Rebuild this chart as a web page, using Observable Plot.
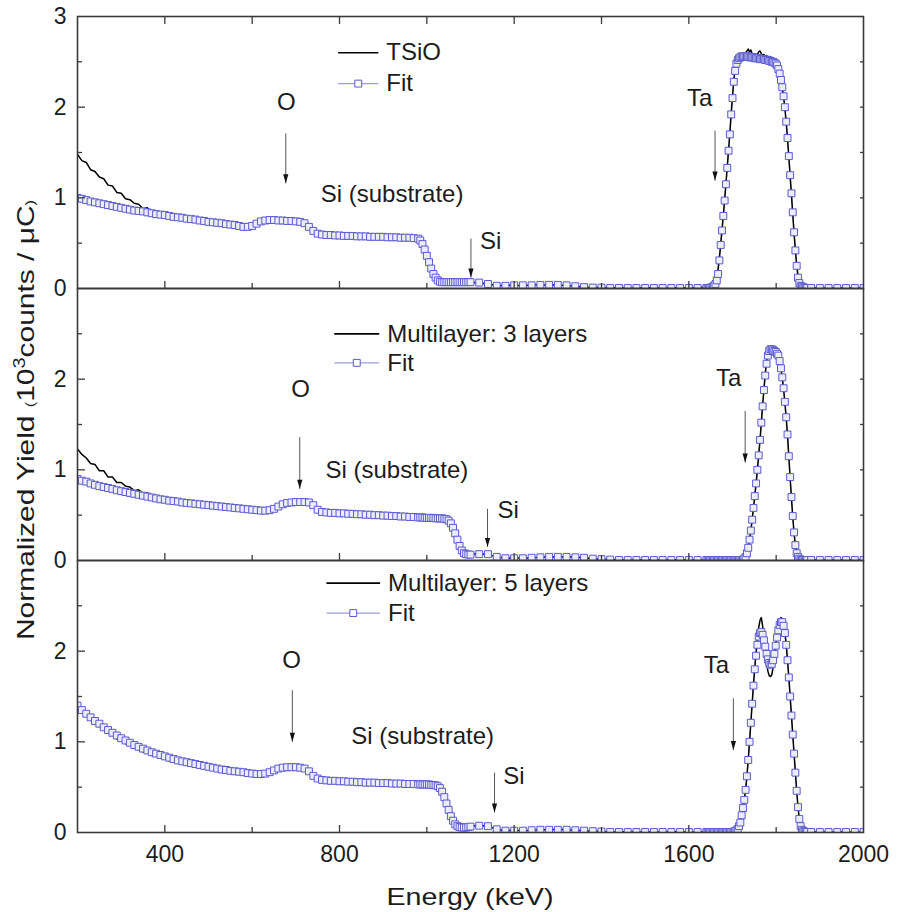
<!DOCTYPE html>
<html>
<head>
<meta charset="utf-8">
<script src="https://cdn.jsdelivr.net/npm/d3@7"></script>
<script src="https://cdn.jsdelivr.net/npm/@observablehq/plot@0.6"></script>
<style>
  body { margin: 0; background: #fff; }
  #chart svg { display: block; }
</style>
</head>
<body>
<div id="chart"></div>
<script>
// ---------- panels (also legend names) ----------
const panels = ["TSiO", "Multilayer: 3 layers", "Multilayer: 5 layers"];

// ---------- energy grid (keV) shared by all spectra ----------
const energy = [
  200,210,220,230,240,250,260,270,280,290,
  300,310,320,330,340,350,360,370,380,390,
  400,410,420,430,440,450,460,470,480,490,
  500,510,520,530,540,550,560,570,580,590,
  600,610,620,630,640,650,660,670,680,690,
  700,710,720,730,740,750,760,770,780,790,
  800,810,820,830,840,850,860,870,880,890,
  900,910,920,930,940,950,960,970,980,
  985,990,995,1000,1005,1010,1015,1020,1025,1030,
  1035,1040,1045,1050,1055,1060,1065,1070,1075,1080,
  1085,1090,1095,1100,
  1120,1140,1160,1180,1200,1220,1240,1260,1280,1300,
  1320,1340,1360,1380,1400,1420,1440,1460,1480,1500,
  1520,1540,1560,1580,1600,1620,1640,
  1643,1646,1649,1652,1655,1658,1661,1664,1667,1670,
  1673,1676,1679,1682,1685,1688,1691,1694,1697,1700,
  1703,1706,1709,1712,1715,1718,1721,1724,1727,1730,
  1733,1736,1739,1742,1745,1748,1751,1754,1757,1760,
  1763,1766,1769,1772,1775,1778,1781,1784,1787,1790,
  1793,1796,1799,1802,1805,1808,1811,1814,1817,1820,
  1823,1826,1829,1832,1835,1838,1841,1844,1847,1850,
  1853,1856,1859,1862,1865,1868,1871,
  1880,1900,1920,1940,1960,1980,2000
];

// ---------- TSiO (10^3 counts / uC) ----------
const tsioData = [
  1.48,1.41,1.39,1.31,1.29,1.23,1.21,1.14,1.13,1.06,
  1.05,0.99,0.98,0.94,0.93,0.88,0.89,0.84,0.85,0.81,
  0.82,0.79,0.80,0.77,0.79,0.76,0.775,0.755,0.76,0.745,
  0.74,0.735,0.73,0.715,0.715,0.70,0.705,0.69,0.68,0.68,
  0.69,0.71,0.74,0.755,0.75,0.76,0.75,0.745,0.75,0.74,
  0.745,0.73,0.72,0.68,0.63,0.60,0.585,0.59,0.58,0.585,
  0.58,0.575,0.58,0.57,0.575,0.565,0.575,0.565,0.57,0.565,
  0.57,0.56,0.565,0.555,0.56,0.555,0.56,0.55,0.55,
  0.52,0.48,0.43,0.36,0.29,0.22,0.16,0.12,0.09,0.075,
  0.07,0.07,0.075,0.07,0.065,0.07,0.075,0.07,0.07,0.075,
  0.07,0.065,0.07,0.07,
  0.06,0.05,0.03,0.035,0.035,0.03,0.04,0.04,0.035,0.04,
  0.03,0.025,0.015,0.01,0.01,0.005,0.01,0.005,0.005,0.01,
  0.005,0.005,0.005,0.01,0.005,0.01,0.01,
  0.01,0.01,0.02,0.03,0.04,0.06,0.09,0.14,0.22,0.34,
  0.49,0.65,0.81,0.98,1.16,1.34,1.53,1.72,1.93,2.12,
  2.30,2.43,2.52,2.56,2.57,2.58,2.57,2.59,2.58,2.60,
  2.62,2.64,2.61,2.63,2.59,2.58,2.59,2.57,2.58,2.61,
  2.62,2.59,2.57,2.58,2.56,2.57,2.55,2.56,2.54,2.55,
  2.53,2.52,2.50,2.47,2.43,2.37,2.30,2.21,2.11,1.99,
  1.83,1.65,1.45,1.24,1.03,0.82,0.61,0.42,0.26,0.14,
  0.07,0.04,0.02,0.01,0.01,0.01,0.005,
  0.005,0.005,0.005,0.005,0.005,0.005,0.005
];
const tsioFit = [
  1.00,0.99,0.975,0.96,0.95,0.94,0.93,0.92,0.91,0.90,
  0.89,0.88,0.87,0.86,0.855,0.85,0.84,0.83,0.82,0.815,
  0.81,0.80,0.79,0.785,0.78,0.77,0.765,0.76,0.75,0.745,
  0.735,0.73,0.725,0.72,0.71,0.705,0.70,0.69,0.68,0.68,
  0.69,0.715,0.74,0.75,0.755,0.755,0.75,0.75,0.745,0.745,
  0.74,0.735,0.72,0.68,0.635,0.605,0.595,0.59,0.59,0.585,
  0.585,0.58,0.58,0.58,0.575,0.575,0.575,0.57,0.57,0.57,
  0.57,0.565,0.565,0.565,0.56,0.56,0.56,0.555,0.55,
  0.53,0.49,0.43,0.36,0.29,0.22,0.16,0.12,0.09,0.075,
  0.07,0.07,0.07,0.07,0.07,0.07,0.07,0.07,0.07,0.07,
  0.07,0.07,0.07,0.07,
  0.065,0.05,0.03,0.03,0.035,0.035,0.035,0.04,0.04,0.04,
  0.035,0.025,0.015,0.01,0.01,0.005,0.005,0.005,0.005,0.005,
  0.005,0.005,0.005,0.005,0.005,0.005,0.005,
  0.005,0.005,0.01,0.01,0.02,0.03,0.05,0.09,0.16,0.31,
  0.48,0.64,0.80,0.97,1.15,1.33,1.52,1.70,1.92,2.10,
  2.28,2.40,2.48,2.52,2.54,2.55,2.56,2.56,2.56,2.56,
  2.56,2.56,2.55,2.55,2.55,2.55,2.54,2.54,2.54,2.54,
  2.53,2.53,2.53,2.53,2.52,2.52,2.52,2.51,2.51,2.50,
  2.50,2.49,2.48,2.46,2.42,2.37,2.30,2.22,2.12,2.00,
  1.84,1.66,1.46,1.25,1.05,0.84,0.62,0.42,0.25,0.12,
  0.06,0.03,0.02,0.01,0.01,0.005,0.005,
  0.005,0.005,0.005,0.005,0.005,0.005,0.005
];

// ---------- Multilayer: 3 layers ----------
const ml3Data = [
  1.23,1.17,1.13,1.07,1.06,0.99,0.99,0.92,0.92,0.86,
  0.86,0.82,0.81,0.77,0.78,0.735,0.745,0.71,0.71,0.68,
  0.69,0.66,0.67,0.645,0.65,0.635,0.635,0.625,0.625,0.61,
  0.61,0.60,0.605,0.59,0.59,0.58,0.585,0.57,0.575,0.56,
  0.56,0.55,0.555,0.545,0.555,0.565,0.60,0.61,0.64,0.63,
  0.655,0.64,0.65,0.635,0.61,0.555,0.535,0.525,0.53,0.52,
  0.52,0.515,0.52,0.51,0.515,0.505,0.51,0.50,0.505,0.495,
  0.50,0.49,0.495,0.485,0.49,0.48,0.485,0.475,0.48,
  0.47,0.475,0.465,0.47,0.47,0.465,0.47,0.46,0.465,0.46,
  0.465,0.455,0.455,0.44,0.41,0.36,0.30,0.23,0.16,0.11,
  0.08,0.07,0.065,0.07,
  0.075,0.065,0.04,0.025,0.03,0.025,0.03,0.035,0.04,0.035,
  0.045,0.035,0.03,0.02,0.015,0.01,0.005,0.005,0.01,0.005,
  0.005,0.005,0.01,0.005,0.005,0.005,0.005,
  0.005,0.005,0.005,0.01,0.005,0.005,0.005,0.01,0.005,0.005,
  0.005,0.005,0.01,0.005,0.005,0.005,0.005,0.005,0.01,0.005,
  0.005,0.005,0.005,0.01,0.005,0.01,0.01,0.015,0.025,0.045,
  0.085,0.145,0.23,0.33,0.45,0.58,0.71,0.85,1.00,1.16,
  1.33,1.52,1.71,1.89,2.06,2.20,2.29,2.34,2.36,2.34,
  2.33,2.31,2.30,2.28,2.25,2.19,2.11,2.01,1.89,1.74,
  1.57,1.38,1.14,0.91,0.69,0.48,0.30,0.17,0.08,0.04,
  0.02,0.01,0.005,0.005,0.005,0.005,0.005,
  0.005,0.005,0.005,0.005,0.005,0.005,0.005
];
const ml3Fit = [
  0.90,0.88,0.87,0.85,0.835,0.82,0.81,0.80,0.79,0.775,
  0.765,0.755,0.745,0.735,0.725,0.715,0.705,0.695,0.685,0.675,
  0.67,0.66,0.655,0.65,0.64,0.635,0.63,0.625,0.62,0.615,
  0.61,0.605,0.60,0.595,0.59,0.585,0.58,0.575,0.57,0.565,
  0.56,0.555,0.55,0.55,0.555,0.57,0.595,0.62,0.635,0.64,
  0.645,0.645,0.645,0.64,0.61,0.56,0.535,0.53,0.525,0.525,
  0.52,0.52,0.515,0.515,0.51,0.51,0.505,0.505,0.50,0.50,
  0.495,0.495,0.49,0.49,0.485,0.485,0.48,0.48,0.475,
  0.475,0.475,0.47,0.47,0.47,0.47,0.47,0.465,0.465,0.465,
  0.465,0.46,0.455,0.44,0.41,0.36,0.30,0.23,0.16,0.11,
  0.08,0.07,0.065,0.065,
  0.07,0.07,0.04,0.025,0.025,0.025,0.03,0.035,0.04,0.04,
  0.04,0.035,0.03,0.02,0.015,0.01,0.005,0.005,0.005,0.005,
  0.005,0.005,0.005,0.005,0.005,0.005,0.005,
  0.005,0.005,0.005,0.005,0.005,0.005,0.005,0.005,0.005,0.005,
  0.005,0.005,0.005,0.005,0.005,0.005,0.005,0.005,0.005,0.005,
  0.005,0.005,0.005,0.005,0.005,0.005,0.005,0.01,0.02,0.04,
  0.08,0.14,0.23,0.33,0.45,0.58,0.71,0.85,1.00,1.16,
  1.33,1.52,1.70,1.88,2.04,2.17,2.26,2.31,2.33,2.33,
  2.32,2.31,2.30,2.28,2.26,2.20,2.12,2.02,1.90,1.75,
  1.58,1.39,1.15,0.92,0.70,0.49,0.31,0.17,0.08,0.04,
  0.02,0.01,0.005,0.005,0.005,0.005,0.005,
  0.005,0.005,0.005,0.005,0.005,0.005,0.005
];

// ---------- Multilayer: 5 layers ----------
const ml5Data = [
  1.39,1.34,1.31,1.25,1.23,1.17,1.15,1.10,1.09,1.03,
  1.03,0.98,0.98,0.93,0.93,0.89,0.89,0.85,0.855,0.82,
  0.83,0.79,0.80,0.765,0.775,0.745,0.755,0.725,0.735,0.71,
  0.705,0.69,0.695,0.675,0.68,0.66,0.665,0.65,0.65,0.64,
  0.64,0.64,0.64,0.65,0.665,0.69,0.71,0.72,0.73,0.725,
  0.725,0.72,0.70,0.67,0.62,0.595,0.58,0.58,0.575,0.57,
  0.57,0.565,0.565,0.56,0.56,0.555,0.555,0.55,0.555,0.545,
  0.55,0.545,0.545,0.54,0.545,0.535,0.54,0.535,0.535,
  0.53,0.535,0.53,0.53,0.525,0.53,0.52,0.52,0.51,0.49,
  0.45,0.39,0.32,0.25,0.18,0.13,0.09,0.07,0.06,0.055,
  0.06,0.055,0.065,0.07,
  0.08,0.07,0.035,0.02,0.025,0.02,0.025,0.03,0.03,0.035,
  0.03,0.025,0.02,0.015,0.01,0.005,0.005,0.01,0.005,0.005,
  0.005,0.005,0.01,0.005,0.005,0.005,0.005,
  0.005,0.005,0.005,0.005,0.01,0.005,0.005,0.005,0.005,0.005,
  0.005,0.005,0.005,0.01,0.005,0.005,0.005,0.005,0.01,0.01,
  0.015,0.02,0.03,0.045,0.07,0.11,0.18,0.26,0.36,0.47,
  0.62,0.80,1.00,1.21,1.42,1.63,1.82,1.99,2.14,2.26,
  2.34,2.37,2.28,2.12,1.98,1.86,1.78,1.73,1.72,1.74,
  1.82,1.94,2.06,2.18,2.27,2.33,2.37,2.36,2.30,2.21,
  2.07,1.90,1.71,1.50,1.29,1.08,0.87,0.66,0.46,0.28,
  0.15,0.07,0.03,0.015,0.01,0.005,0.005,
  0.005,0.005,0.005,0.005,0.005,0.005,0.005
];
const ml5Fit = [
  1.40,1.35,1.31,1.27,1.23,1.20,1.16,1.13,1.10,1.07,
  1.04,1.015,0.99,0.965,0.945,0.925,0.905,0.885,0.87,0.855,
  0.84,0.825,0.81,0.795,0.785,0.775,0.765,0.755,0.745,0.735,
  0.725,0.715,0.705,0.695,0.69,0.68,0.675,0.67,0.665,0.655,
  0.65,0.645,0.645,0.65,0.665,0.685,0.705,0.715,0.72,0.72,
  0.72,0.715,0.705,0.675,0.625,0.595,0.58,0.575,0.57,0.57,
  0.565,0.565,0.56,0.56,0.555,0.555,0.55,0.55,0.55,0.545,
  0.545,0.545,0.54,0.54,0.54,0.535,0.535,0.535,0.53,
  0.53,0.53,0.53,0.53,0.53,0.525,0.525,0.52,0.51,0.49,
  0.45,0.39,0.32,0.25,0.18,0.13,0.09,0.07,0.06,0.055,
  0.055,0.055,0.06,0.065,
  0.075,0.07,0.035,0.02,0.02,0.02,0.025,0.03,0.03,0.03,
  0.03,0.025,0.02,0.015,0.01,0.005,0.005,0.005,0.005,0.005,
  0.005,0.005,0.005,0.005,0.005,0.005,0.005,
  0.005,0.005,0.005,0.005,0.005,0.005,0.005,0.005,0.005,0.005,
  0.005,0.005,0.005,0.005,0.005,0.005,0.005,0.005,0.005,0.005,
  0.01,0.015,0.025,0.04,0.07,0.11,0.19,0.27,0.36,0.47,
  0.62,0.80,1.00,1.21,1.42,1.62,1.80,1.95,2.07,2.16,
  2.20,2.21,2.18,2.12,2.05,1.97,1.91,1.87,1.85,1.86,
  1.90,1.97,2.06,2.15,2.23,2.29,2.32,2.32,2.28,2.20,
  2.07,1.90,1.71,1.50,1.29,1.08,0.87,0.66,0.46,0.28,
  0.15,0.07,0.03,0.015,0.01,0.005,0.005,
  0.005,0.005,0.005,0.005,0.005,0.005,0.005
];

// ---------- annotations ----------
const noteText   = ["O", "Si (substrate)", "Si", "Ta", "O", "Si (substrate)", "Si", "Ta", "O", "Si (substrate)", "Si", "Ta"];
const notePanel  = [0, 0, 0, 0, 1, 1, 1, 1, 2, 2, 2, 2];
const noteEnergy = [678, 757, 1122, 1596, 711, 768, 1162, 1662, 690, 827, 1175, 1634];
const noteYield  = [2.05, 1.04, 0.52, 2.10, 1.89, 0.99, 0.55, 2.01, 1.90, 1.06, 0.62, 1.84];

const arrowPanel  = [0, 0, 0, 1, 1, 1, 2, 2, 2];
const arrowEnergy = [677, 1101, 1660, 709, 1139, 1729, 692, 1155, 1702];
const arrowFrom   = [1.71, 0.55, 1.74, 1.36, 0.57, 1.65, 1.57, 0.66, 1.48];
const arrowTo     = [1.16, 0.12, 1.19, 0.79, 0.15, 1.08, 1.00, 0.22, 0.91];

// ---------- legends (one per panel) ----------
const legendStart = [797, 788, 770];
const legendEnd   = [889, 891, 893];
const legendDataY = [2.60, 2.50, 2.75];
const legendFitY  = [2.26, 2.18, 2.42];
const legendFitLabel = "Fit";

// ---------- axis ticks ----------
const yTickLabels = [0, 1, 2];
const yTopLabel = [3];
const yMajor = [1, 2];
const yMinor = [0.5, 1.5, 2.5];
const yRight = [0.5, 1, 1.5, 2, 2.5];
const xMajor = [400, 800, 1200, 1600];
const xMinor = [600, 1000, 1400, 1800];
const xTickLabels = [400, 800, 1200, 1600, 2000];

// ---------- build tables ----------
const dataSeries = [tsioData, ml3Data, ml5Data];
const fitSeries = [tsioFit, ml3Fit, ml5Fit];
dataSeries.concat(fitSeries).forEach((arr, k) => {
  if (arr.length !== energy.length) throw new Error("series " + k + " has " + arr.length + " values, expected " + energy.length);
});
const rows = [];
panels.forEach((p, i) => energy.forEach((e, j) => rows.push({panel: p, energy: e, data: dataSeries[i][j], fit: fitSeries[i][j]})));

const notes = noteText.map((t, i) => ({text: t, panel: panels[notePanel[i]], energy: noteEnergy[i], y: noteYield[i]}));
const arrows = arrowEnergy.map((e, i) => ({panel: panels[arrowPanel[i]], energy: e, from: arrowFrom[i], to: arrowTo[i]}));
const legend = panels.map((p, i) => ({panel: p, start: legendStart[i], end: legendEnd[i], dy: legendDataY[i], fy: legendFitY[i]}));

// narrow arrow head, tip at the anchor point, pointing down
const arrowHead = {
  draw(ctx) {
    ctx.moveTo(0, 0);
    ctx.lineTo(-2.6, -9);
    ctx.lineTo(2.6, -9);
    ctx.closePath();
  }
};

const font = "'Liberation Sans', Arial, Helvetica, sans-serif";
const ink = "#1c1c1c";
const axisInk = "#3a3a3a";
const fitStroke = "#5a5ad0";
const fitFill = "#ececfa";
const fitLine = "#9d9de6";
const fmt = d => String(d);

const chart = Plot.plot({
  width: 898,
  height: 912,
  marginTop: 15,
  marginBottom: 79,
  marginLeft: 77,
  marginRight: 35,
  style: {fontFamily: font, fontSize: "23px", color: ink, background: "white", overflow: "visible"},
  x: {domain: [200, 2000], axis: null, label: null},
  y: {domain: [0, 3], axis: null, label: null},
  fy: {domain: panels, padding: 0, axis: null, label: null},
  marks: [
    // spectra
    Plot.line(rows, {x: "energy", y: "fit", fy: "panel", stroke: fitLine, strokeWidth: 1, clip: true}),
    Plot.line(rows, {x: "energy", y: "data", fy: "panel", stroke: "#000", strokeWidth: 1.5, clip: true}),
    Plot.dot(rows, {x: "energy", y: "fit", fy: "panel", symbol: "square", r: 3.9, stroke: fitStroke, strokeWidth: 1, fill: fitFill, clip: true}),

    // arrows
    Plot.link(arrows, {x1: "energy", x2: "energy", y1: "from", y2: "to", fy: "panel", stroke: "#555", strokeWidth: 1}),
    Plot.dot(arrows, {x: "energy", y: "to", fy: "panel", symbol: arrowHead, fill: "#111", stroke: "none"}),

    // annotation labels
    Plot.text(notes.filter(d => d.text === "O"), {x: "energy", y: "y", fy: "panel", text: "text", textAnchor: "middle", lineAnchor: "middle", fontSize: 24, fill: ink}),
    Plot.text(notes.filter(d => d.text !== "O"), {x: "energy", y: "y", fy: "panel", text: "text", textAnchor: "start", lineAnchor: "middle", fontSize: 24, fill: ink}),

    // legends
    Plot.link(legend, {x1: "start", x2: "end", y1: "dy", y2: "dy", fy: "panel", stroke: "#000", strokeWidth: 1.6}),
    Plot.link(legend, {x1: "start", x2: "end", y1: "fy", y2: "fy", fy: "panel", stroke: fitLine, strokeWidth: 1.2}),
    Plot.dot(legend, {x: d => (d.start + d.end) / 2, y: "fy", fy: "panel", symbol: "square", r: 3.9, stroke: fitStroke, strokeWidth: 1, fill: "white"}),
    Plot.text(legend, {x: "end", y: "dy", fy: "panel", text: "panel", dx: 8, textAnchor: "start", lineAnchor: "middle", fontSize: 24, fill: ink}),
    Plot.text(legend, {x: "end", y: "fy", fy: "panel", text: () => legendFitLabel, dx: 8, textAnchor: "start", lineAnchor: "middle", fontSize: 24, fill: ink}),

    // frame
    Plot.frame({stroke: axisInk, strokeWidth: 1.6}),

    // y ticks (inward)
    Plot.axisY(yMajor, {tickSize: -8, fill: "none", stroke: axisInk, strokeWidth: 1.3, label: null}),
    Plot.axisY(yMinor, {tickSize: -5, fill: "none", stroke: axisInk, strokeWidth: 1.3, label: null}),
    Plot.axisY(yRight, {anchor: "right", tickSize: -4, fill: "none", stroke: axisInk, strokeWidth: 1.3, label: null}),
    Plot.axisY(yTickLabels, {tickSize: 0, tickPadding: 11, tickFormat: fmt, fontSize: 23, fill: ink, label: null}),
    Plot.text(yTopLabel, {frameAnchor: "left", y: d => d, fy: () => panels[0], text: d => String(d), dx: -11, textAnchor: "end", lineAnchor: "middle", fontSize: 23, fill: ink}),

    // x ticks (inward) on every panel bottom, and on the top of the first panel
    Plot.axisX(xMajor, {tickSize: -7, fill: "none", stroke: axisInk, strokeWidth: 1.3, facetAnchor: null, label: null}),
    Plot.axisX(xMinor, {tickSize: -5, fill: "none", stroke: axisInk, strokeWidth: 1.3, facetAnchor: null, label: null}),
    Plot.axisX(xMajor.concat(xMinor), {anchor: "top", tickSize: -7, fill: "none", stroke: axisInk, strokeWidth: 1.3, label: null}),
    Plot.axisX(xTickLabels, {tickSize: 0, tickPadding: 13, tickFormat: fmt, fontSize: 23, fill: ink, label: null})
  ]
});

document.getElementById("chart").appendChild(chart);

// axis titles
const svg = d3.select(chart);
const yl = svg.append("text")
  .attr("transform", "translate(34,420) rotate(-90)")
  .attr("text-anchor", "middle")
  .attr("font-size", 24)
  .attr("fill", ink)
  .attr("textLength", 440)
  .attr("lengthAdjust", "spacingAndGlyphs");
yl.append("tspan").text("Normalized Yield ");
yl.append("tspan").attr("font-size", 13).text("(");
yl.append("tspan").text("10");
yl.append("tspan").attr("font-size", 16).attr("dy", -9).text("3");
yl.append("tspan").attr("dy", 9).text("counts / μC");
yl.append("tspan").attr("font-size", 13).text(")");

svg.append("text")
  .attr("x", 470)
  .attr("y", 905)
  .attr("text-anchor", "middle")
  .attr("font-size", 24)
  .attr("fill", ink)
  .attr("textLength", 167)
  .attr("lengthAdjust", "spacingAndGlyphs")
  .text("Energy (keV)");
</script>
</body>
</html>
